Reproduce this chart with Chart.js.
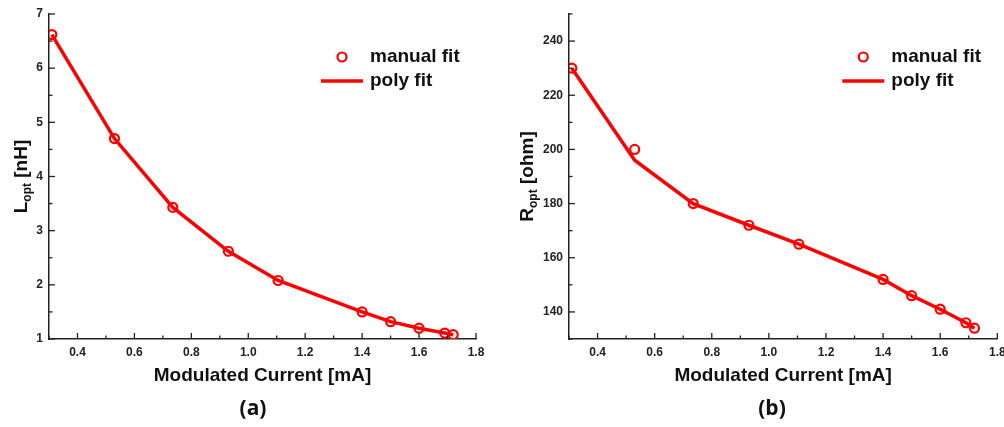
<!DOCTYPE html>
<html>
<head>
<meta charset="utf-8">
<script src="https://cdn.jsdelivr.net/npm/chart.js@4"></script>
<style>
  html, body { margin: 0; padding: 0; background: #fff; }
  body { width: 1004px; height: 427px; position: relative; overflow: hidden; }
  .box { position: absolute; top: 0; height: 427px; }
  .cap { position: absolute; top: 407px; transform: translate(-50%, -50%);
         font: bold 21px "Open Sans", sans-serif; color: #111; }
</style>
</head>
<body>
<div class="box" style="left:0;width:500px"><canvas id="chartL"></canvas></div>
<div class="box" style="left:502px;width:502px"><canvas id="chartR"></canvas></div>
<div class="cap" style="left:253px">(a)</div>
<div class="cap" style="left:772px">(b)</div>
<script>
// modulated current (mA), shared by both panels
const current = [0.31, 0.53, 0.735, 0.93, 1.105, 1.40, 1.50, 1.60, 1.69, 1.72];

// panel (a): optimum inductance (nH)
const lManual = [6.62, 4.70, 3.43, 2.62, 2.08, 1.50, 1.32, 1.20, 1.11, 1.08];
const lPoly   = [6.62, 4.70, 3.43, 2.62, 2.08, 1.50, 1.32, 1.20, 1.11, 1.08];

// panel (b): optimum resistance (ohm)
const rManual = [230, 200, 180, 172, 165, 152, 146, 141, 136, 134];
const rPoly   = [230, 196, 180, 172, 165, 152, 146, 141, 136, 134];

// tick labels
const xTicks  = [0.4, 0.6, 0.8, 1.0, 1.2, 1.4, 1.6, 1.8];
const lTicks  = [1, 2, 3, 4, 5, 6, 7];
const rTicks  = [140, 160, 180, 200, 220, 240];

const legendLabels = ['manual fit', 'poly fit'];
const RED = '#ff0000';
const INK = '#222';

function points(ys) {
    return current.map((x, i) => ({ x: x, y: ys[i] }));
}

// inward ticks, legend and y title with subscript
const decor = {
    id: 'decor',
    afterDraw(chart, args, opts) {
        const ctx = chart.ctx;
        const area = chart.chartArea;
        const xs = chart.scales.x, ys = chart.scales.y;
        ctx.save();
        ctx.strokeStyle = INK;
        ctx.lineWidth = 1.3;

        // x ticks (major + minor halfway)
        const xv = opts.xTicks;
        const xMinor = [xv[0] - 0.1].concat(xv.slice(0, -1).map((v, i) => (v + xv[i + 1]) / 2));
        xv.forEach(v => {
            const p = xs.getPixelForValue(v);
            ctx.beginPath(); ctx.moveTo(p, area.bottom); ctx.lineTo(p, area.bottom - 6); ctx.stroke();
        });
        xMinor.forEach(v => {
            if (v < xs.min) return;
            const p = xs.getPixelForValue(v);
            ctx.beginPath(); ctx.moveTo(p, area.bottom); ctx.lineTo(p, area.bottom - 3.5); ctx.stroke();
        });

        // y ticks
        const yv = opts.yTicks;
        const step = yv[1] - yv[0];
        const yMinor = [yv[0] - step / 2].concat(yv.map(v => v + step / 2));
        yv.forEach(v => {
            const p = ys.getPixelForValue(v);
            ctx.beginPath(); ctx.moveTo(area.left, p); ctx.lineTo(area.left + 6, p); ctx.stroke();
        });
        yMinor.forEach(v => {
            if (v < ys.min || v > ys.max) return;
            const p = ys.getPixelForValue(v);
            ctx.beginPath(); ctx.moveTo(area.left, p); ctx.lineTo(area.left + 3.5, p); ctx.stroke();
        });

        // legend
        const r = area.right;
        const y1 = area.top + 43, y2 = area.top + 67;
        ctx.strokeStyle = RED;
        ctx.lineWidth = 2.2;
        ctx.beginPath(); ctx.arc(r - 134, y1, 4.5, 0, Math.PI * 2); ctx.stroke();
        ctx.lineWidth = 3.5;
        ctx.beginPath(); ctx.moveTo(r - 155, y2); ctx.lineTo(r - 113, y2); ctx.stroke();
        ctx.fillStyle = '#111';
        ctx.font = 'bold 19px "Liberation Sans", Arial, sans-serif';
        ctx.textBaseline = 'middle';
        ctx.textAlign = 'left';
        ctx.fillText(legendLabels[0], r - 106, y1);
        ctx.fillText(legendLabels[1], r - 106, y2);

        // rotated y title: main + subscript + rest
        const big = 'bold 19px "Liberation Sans", Arial, sans-serif';
        const small = 'bold 12px "Liberation Sans", Arial, sans-serif';
        ctx.font = big;
        const w1 = ctx.measureText(opts.yMain).width;
        const w3 = ctx.measureText(opts.yRest).width;
        ctx.font = small;
        const w2 = ctx.measureText(opts.ySub).width;
        const total = w1 + w2 + w3;
        ctx.translate(opts.yTitleX, (area.top + area.bottom) / 2);
        ctx.rotate(-Math.PI / 2);
        ctx.textBaseline = 'alphabetic';
        let x0 = -total / 2;
        ctx.font = big;
        ctx.fillText(opts.yMain, x0, 7);
        ctx.font = small;
        ctx.fillText(opts.ySub, x0 + w1, 11);
        ctx.font = big;
        ctx.fillText(opts.yRest, x0 + w1 + w2, 7);
        ctx.restore();
    }
};

function makeChart(id, manual, poly, yMin, yMax, yTicks, yWidth, padRight, yMain, ySub, yRest, yTitleX) {
    const tickFont = { family: '"Liberation Sans", Arial, sans-serif', size: 12, weight: 'bold' };
    return new Chart(document.getElementById(id), {
        type: 'scatter',
        data: {
            datasets: [{
                label: legendLabels[0],
                data: points(manual),
                pointStyle: 'circle',
                pointRadius: 4.5,
                pointBorderWidth: 2.2,
                pointBorderColor: RED,
                pointBackgroundColor: 'rgba(0,0,0,0)',
                showLine: false,
                order: 0
            }, {
                label: legendLabels[1],
                data: points(poly),
                showLine: true,
                borderColor: RED,
                borderWidth: 3.5,
                pointRadius: 0,
                tension: 0,
                order: 1
            }]
        },
        options: {
            responsive: true,
            maintainAspectRatio: false,
            devicePixelRatio: 1,
            animation: false,
            layout: { padding: { top: 14, right: padRight, left: 0, bottom: 0 } },
            plugins: {
                legend: { display: false },
                tooltip: { enabled: false },
                decor: { xTicks: xTicks, yTicks: yTicks, yMain: yMain, ySub: ySub, yRest: yRest, yTitleX: yTitleX }
            },
            scales: {
                x: {
                    type: 'linear',
                    min: 0.3,
                    max: 1.8,
                    afterBuildTicks: s => { s.ticks = xTicks.map(v => ({ value: v })); },
                    afterFit: s => { s.height = 88; s.paddingLeft = 0; s.paddingRight = 0; },
                    grid: { display: true, drawOnChartArea: false, drawTicks: false },
                    border: { display: true, color: INK, width: 1.5 },
                    ticks: {
                        padding: 6,
                        color: INK,
                        font: tickFont,
                        maxRotation: 0,
                        autoSkip: false,
                        callback: v => v.toFixed(1)
                    },
                    title: {
                        display: true,
                        text: 'Modulated Current [mA]',
                        color: '#111',
                        font: { family: '"Liberation Sans", Arial, sans-serif', size: 19, weight: 'bold' },
                        padding: { top: 0, bottom: 40 }
                    }
                },
                y: {
                    type: 'linear',
                    min: yMin,
                    max: yMax,
                    afterBuildTicks: s => { s.ticks = yTicks.map(v => ({ value: v })); },
                    afterFit: s => { s.width = yWidth; s.paddingTop = 0; s.paddingBottom = 0; },
                    grid: { display: true, drawOnChartArea: false, drawTicks: false },
                    border: { display: true, color: INK, width: 1.5 },
                    ticks: {
                        padding: 6,
                        color: INK,
                        font: tickFont,
                        autoSkip: false
                    }
                }
            }
        },
        plugins: [decor]
    });
}

makeChart('chartL', lManual, lPoly, 1, 7, lTicks, 49, 24, 'L', 'opt', ' [nH]', 20);
makeChart('chartR', rManual, rPoly, 130, 250, rTicks, 67, 6, 'R', 'opt', ' [ohm]', 24);
</script>
</body>
</html>
